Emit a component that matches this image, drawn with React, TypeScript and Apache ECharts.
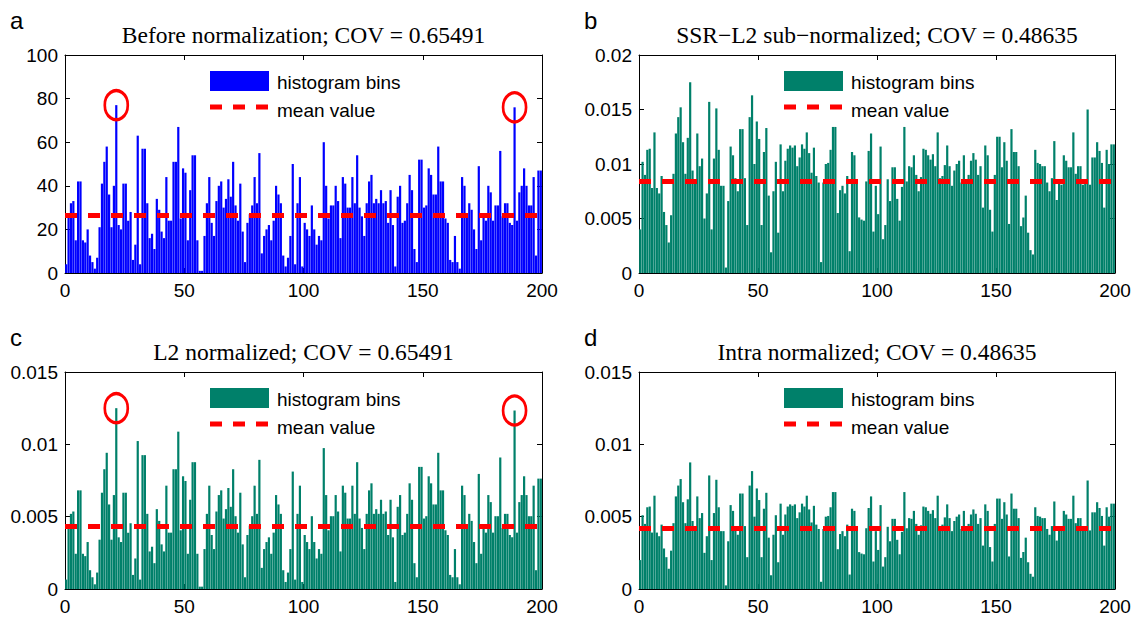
import React, { useEffect, useRef } from "react";
import * as echarts from "echarts";

// Panel a: raw histogram bin counts (200 bins)
const A_VALUES = [
  4, 27, 32, 33, 15, 42, 42, 15, 14, 20, 8, 5, 2, 7, 21, 41, 51, 58, 36, 21, 40,
  77,
  22, 20, 41, 41, 24, 28, 6, 13, 63, 4, 57, 57, 32, 16, 18, 11, 34, 29, 19, 16,
  44, 24, 24, 51, 51, 67, 25, 48, 46, 15, 38, 54, 54, 15, 1, 1, 17, 32, 44, 23,
  17, 33, 40, 42, 30,
  34, 43, 35, 51, 31, 24, 41, 19, 5, 23, 27, 31, 44, 32, 55, 9, 17, 20, 22, 15,
  24, 40, 36, 32, 8, 3, 7, 17, 50, 4, 32, 44, 3, 23, 20, 17, 31, 20, 13, 17,
  15, 60, 40, 25, 31, 31, 40, 33, 16, 44, 41, 30, 30, 44, 32, 54, 30, 26, 17, 32,
  42, 45, 32, 34, 32, 38, 32,
  33, 23, 38, 22, 3, 35, 40, 23, 24, 32, 45, 38, 11, 5, 52, 52, 30, 31, 48, 45,
  36, 36, 58, 42, 42, 25, 23, 6, 5, 17, 5, 2, 44, 40, 27, 32, 29, 20, 11, 49,
  15, 26, 24, 40, 37, 24, 31, 31, 56, 26, 32, 32, 23, 22, 76, 24, 37, 40, 48, 40,
  31, 31, 44, 8, 47, 47,
];

// Panel b: SSR-L2 sub-normalized bins, in thousandths
const B_VALUES_MILLI = [
  4.0, 10.2, 9.0, 11.3, 11.4, 7.8, 12.9, 7.8, 7.3, 8.9, 5.6, 4.4, 2.8, 5.3, 9.1, 12.8, 14.3, 15.2, 12.0, 9.1,
  12.4, 17.5, 9.4, 8.6, 12.8, 9.8, 10.5, 5.0, 7.3, 15.7, 4.0, 10.5, 15.1, 11.3, 8.0, 8.0, 0.5, 6.6, 11.6, 10.8,
  8.7, 7.5, 13.2, 13.2, 8.7, 4.4, 14.3, 16.3, 10.0, 13.9, 12.3, 4.4, 11.1, 13.3, 7.1, 1.9, 7.5, 10.2, 3.7, 11.8,
  7.5, 10.3, 11.4, 11.7, 11.5, 11.7, 9.8,
  10.6, 11.8, 11.4, 12.9, 11.0, 9.2, 11.5, 8.9, 8.3, 1.0, 8.3, 10.0, 10.1, 11.3, 13.4, 13.4, 5.5, 7.6, 8.0, 7.3,
  8.9, 2.0, 11.1, 10.8, 8.3, 5.1, 4.9, 4.8, 8.4, 11.2, 12.8, 3.8, 8.0, 5.4, 11.6, 3.1, 4.4, 8.6, 6.6, 9.7,
  9.7, 6.8, 4.8, 7.9, 13.4, 8.4, 9.8, 9.7, 10.8, 9.0, 7.5, 8.8, 11.4, 11.3, 10.8, 10.4, 10.9, 9.8, 12.9, 8.7,
  8.9, 9.9, 11.7, 9.8, 8.0, 9.4, 10.0,
  10.3, 8.3, 10.8, 8.2, 9.0, 10.3, 11.0, 10.4, 9.0, 9.8, 6.0, 11.7, 10.8, 5.8, 3.8, 9.0, 12.5, 12.5, 9.7, 12.0,
  10.3, 4.5, 13.2, 11.1, 11.1, 9.8, 4.3, 5.1, 7.1, 3.7, 2.1, 1.7, 11.3, 10.1, 10.0, 9.8, 9.8, 8.3, 7.5, 8.7,
  12.1, 6.7, 8.3, 8.1, 10.8, 10.3, 9.7, 9.7, 12.9, 9.1, 9.8, 9.8, 8.1, 8.3, 15.0, 8.1, 10.6, 10.6, 12.0, 11.2,
  10.1, 6.0, 11.3, 10.0, 11.8, 11.8,
];

// Panel c is panel a after L2 normalisation (same COV); factor read from the peaks (0.0125 / 77)
const C_SCALE = 0.0125 / 77;
// Panel d is panel b after intra normalisation (same COV); factor read from the peaks
const D_SCALE = 0.5;

const MEAN_A = 26.6;
const MEAN_B = 0.0084;
const MEAN_C = 0.00432;
const MEAN_D = 0.0042;

// bins circled in panels a and c
const CIRCLED_BINS = [21, 188];

const TITLES = [
  "Before normalization; COV = 0.65491",
  "SSR\u2212L2 sub\u2212normalized; COV = 0.48635",
  "L2 normalized; COV = 0.65491",
  "Intra normalized; COV = 0.48635",
];
const LETTERS = ["a", "b", "c", "d"];
const X_TICKS = { min: 0, max: 200, interval: 50 };
const Y_AXES = [
  { max: 100, interval: 20 },
  { max: 0.02, interval: 0.005 },
  { max: 0.015, interval: 0.005 },
  { max: 0.015, interval: 0.005 },
];

const BLUE = "#0000ff";
const GREEN = "#00806a";
const RED = "#ff0000";

const GRIDS = [
  { left: 65, top: 55, width: 477, height: 218 },
  { left: 639, top: 55, width: 476, height: 218 },
  { left: 65, top: 372, width: 477, height: 217 },
  { left: 639, top: 372, width: 476, height: 217 },
];

const SANS = "Liberation Sans, Arial, sans-serif";
const SERIF = "Liberation Serif, Times New Roman, serif";

export default function App() {
  const ref = useRef<HTMLDivElement>(null);
  useEffect(() => {
    if (!ref.current) return;
    const chart = echarts.init(ref.current, undefined, { renderer: "svg" });

    const cValues = A_VALUES.map((v) => v * C_SCALE);
    const bValues = B_VALUES_MILLI.map((v) => v / 1000);
    const dValues = bValues.map((v) => v * D_SCALE);
    const panels = [
      { data: A_VALUES, mean: MEAN_A, color: BLUE, circles: true },
      { data: bValues, mean: MEAN_B, color: GREEN, circles: false },
      { data: cValues, mean: MEAN_C, color: GREEN, circles: true },
      { data: dValues, mean: MEAN_D, color: GREEN, circles: false },
    ];

    const xAxis: any[] = [];
    const yAxis: any[] = [];
    const series: any[] = [];
    const graphic: any[] = [];

    const axisLine = { show: true, onZero: false, lineStyle: { color: "#000", width: 1 } };
    const axisTick = { show: true, inside: true, length: 5, lineStyle: { color: "#000", width: 1 } };
    const axisLabel = { color: "#000", fontSize: 19, fontFamily: SANS };

    panels.forEach((p, g) => {
      const grid = GRIDS[g];
      xAxis.push({
        gridIndex: g, type: "value", position: "bottom", ...X_TICKS,
        axisLine, axisTick, axisLabel: { ...axisLabel, margin: 8 }, splitLine: { show: false },
      });
      xAxis.push({
        gridIndex: g, type: "value", position: "top", ...X_TICKS,
        axisLine, axisTick, axisLabel: { show: false }, splitLine: { show: false },
      });
      yAxis.push({
        gridIndex: g, type: "value", position: "left", min: 0, ...Y_AXES[g],
        axisLine, axisTick, axisLabel: { ...axisLabel, margin: 7 }, splitLine: { show: false },
      });
      yAxis.push({
        gridIndex: g, type: "value", position: "right", min: 0, ...Y_AXES[g],
        axisLine, axisTick, axisLabel: { show: false }, splitLine: { show: false },
      });
      series.push({
        type: "bar",
        name: "histogram bins",
        xAxisIndex: 2 * g,
        yAxisIndex: 2 * g,
        data: p.data.map((v, i) => [i + 0.5, v]),
        barWidth: 2.2,
        itemStyle: { color: p.color },
        silent: true,
        markLine: {
          silent: true,
          precision: 8,
          symbol: ["none", "none"],
          label: { show: false },
          lineStyle: { color: RED, width: 5, type: [12, 11] },
          data: [{ yAxis: p.mean }],
        },
        markPoint: p.circles
          ? {
              silent: true,
              symbol: "circle",
              symbolSize: [23, 29],
              itemStyle: { color: "rgba(0,0,0,0)", borderColor: RED, borderWidth: 3 },
              label: { show: false },
              data: CIRCLED_BINS.map((b) => ({ coord: [b + 0.5, p.data[b]] })),
            }
          : undefined,
      });

      // title
      graphic.push({
        type: "text",
        x: grid.left + grid.width / 2,
        y: grid.top - 20,
        style: {
          text: TITLES[g], fill: "#000", font: `23.5px ${SERIF}`,
          textAlign: "center", textVerticalAlign: "middle",
        },
      });
      // panel letter
      graphic.push({
        type: "text",
        x: grid.left - 55,
        y: grid.top - 35,
        style: {
          text: LETTERS[g], fill: "#000", font: `24px ${SANS}`,
          textAlign: "left", textVerticalAlign: "middle",
        },
      });
      // legend
      const lx = grid.left + 145;
      graphic.push({
        type: "rect",
        shape: { x: lx, y: grid.top + 16, width: 59, height: 20 },
        style: { fill: p.color },
      });
      graphic.push({
        type: "line",
        shape: { x1: lx, y1: grid.top + 52, x2: lx + 59, y2: grid.top + 52 },
        style: { stroke: RED, lineWidth: 5, lineDash: [12, 11] },
      });
      graphic.push({
        type: "text",
        x: lx + 67,
        y: grid.top + 27,
        style: { text: "histogram bins", fill: "#000", font: `19px ${SANS}`, textVerticalAlign: "middle" },
      });
      graphic.push({
        type: "text",
        x: lx + 67,
        y: grid.top + 55,
        style: { text: "mean value", fill: "#000", font: `19px ${SANS}`, textVerticalAlign: "middle" },
      });
    });

    chart.setOption({
      animation: false,
      backgroundColor: "#fff",
      grid: GRIDS.map((g) => ({ ...g, containLabel: false })),
      xAxis,
      yAxis,
      series,
      graphic,
    });
    return () => chart.dispose();
  }, []);

  return (
    <div
      ref={ref}
      style={{ position: "fixed", left: 0, top: 0, width: 1138, height: 621 }}
    />
  );
}
